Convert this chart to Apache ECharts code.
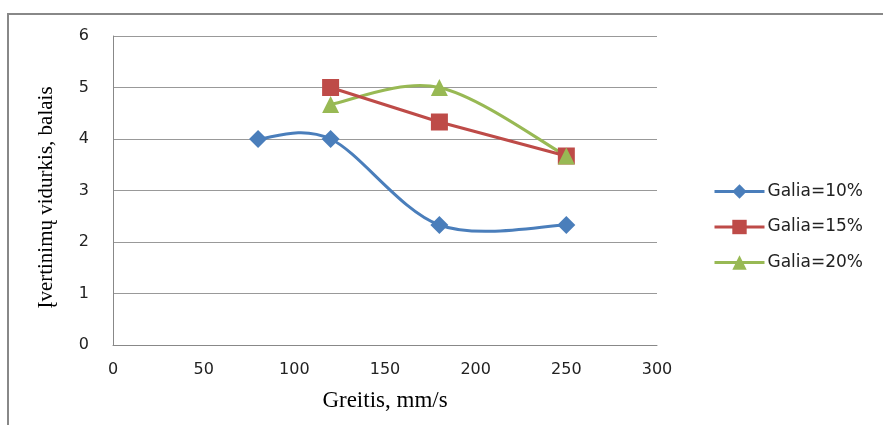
<!DOCTYPE html>
<html><head><meta charset="utf-8">
<script src="https://cdn.jsdelivr.net/npm/echarts@6/dist/echarts.min.js"></script>
<style>html,body{margin:0;padding:0;background:#fff}#c{width:883px;height:425px}</style>
</head><body><div id="c"></div>
<script>
const seriesNames = ['Galia=10%', 'Galia=15%', 'Galia=20%'];
const speeds10 = [80, 120, 180, 250];
const values10 = [4, 4, 2.33, 2.33];
const speeds15 = [120, 180, 250];
const values15 = [5, 4.33, 3.67];
const speeds20 = [120, 180, 250];
const values20 = [4.67, 5, 3.67];
const xTitle = 'Greitis, mm/s';
const yTitle = 'Įvertinimų vidurkis, balais';

const colors = ['#4a7ebb', '#be4b48', '#98b954'];
const zip = (xs, ys) => xs.map((x, i) => [x, ys[i]]);

// Excel-style smoothed curve drawn through the axis scales (api.coord)
function smoothCurve(xs, ys, color) {
  return {
    type: 'custom', name: '_curve', silent: true, z: 2,
    data: zip(xs, ys),
    renderItem: function (params, api) {
      if (params.dataIndex !== 0) return null;
      const p = xs.map((x, i) => api.coord([x, ys[i]]));
      const n = p.length;
      const path = [];
      for (let i = 0; i < n - 1; i++) {
        const p0 = p[Math.max(i - 1, 0)], p1 = p[i], p2 = p[i + 1], p3 = p[Math.min(i + 2, n - 1)];
        const c1 = [p1[0] + (p2[0] - p0[0]) / 6, p1[1] + (p2[1] - p0[1]) / 6];
        const c2 = [p2[0] - (p3[0] - p1[0]) / 6, p2[1] - (p3[1] - p1[1]) / 6];
        if (i === 0) path.push('M' + p1[0] + ' ' + p1[1]);
        path.push('C' + c1[0] + ' ' + c1[1] + ' ' + c2[0] + ' ' + c2[1] + ' ' + p2[0] + ' ' + p2[1]);
      }
      return {type: 'path', shape: {pathData: path.join(' ')},
        style: {fill: 'none', stroke: color, lineWidth: 3, lineJoin: 'round'}};
    }
  };
}

const chart = echarts.init(document.getElementById('c'));
const tickFont = {fontFamily: 'DejaVu Sans', fontSize: 16, color: '#222'};
chart.setOption({
  animation: false,
  graphic: [{type: 'rect', shape: {x: 8, y: 14, width: 900, height: 430}, style: {fill: 'none', stroke: '#888', lineWidth: 2}, silent: true}],
  grid: {left: 113, right: 226, top: 36, bottom: 80, containLabel: false, outerBoundsMode: 'none'},
  xAxis: {type: 'value', min: 0, max: 300, interval: 50,
    name: xTitle, nameLocation: 'middle', nameGap: 44,
    nameTextStyle: {fontFamily: 'Liberation Serif', fontSize: 23, color: '#000'},
    axisLine: {show: true, lineStyle: {color: '#888'}}, axisTick: {show: false},
    splitLine: {show: false}, axisLabel: Object.assign({margin: 17}, tickFont)},
  yAxis: {type: 'value', min: 0, max: 6, interval: 1,
    name: yTitle, nameLocation: 'middle', nameGap: 56, nameRotate: 90,
    nameTextStyle: {fontFamily: 'Liberation Serif', fontSize: 21, color: '#000', padding: [0, 14, 0, 0]},
    axisLine: {show: true, lineStyle: {color: '#888'}}, axisTick: {show: false},
    splitLine: {lineStyle: {color: '#999', width: 1}}, axisLabel: Object.assign({margin: 24}, tickFont)},
  legend: {orient: 'vertical', left: 713, top: 183, padding: 0, itemGap: 18.5, itemWidth: 50, itemHeight: 18,
    textStyle: {fontFamily: 'DejaVu Sans', fontSize: 17, color: '#222', padding: [0, 0, 0, -2]},
    data: seriesNames.map((n, i) => ({name: n, lineStyle: {opacity: 1, width: 3, color: colors[i]}}))},
  series: [
    smoothCurve(speeds10, values10, colors[0]),
    smoothCurve(speeds20, values20, colors[2]),
    {name: seriesNames[0], type: 'line', data: zip(speeds10, values10), z: 3,
     symbol: 'diamond', symbolSize: [18, 18], lineStyle: {width: 3, color: colors[0], opacity: 0}, itemStyle: {color: colors[0]}},
    {name: seriesNames[1], type: 'line', data: zip(speeds15, values15), z: 3,
     symbol: 'rect', symbolSize: 17, lineStyle: {width: 3, color: colors[1]}, itemStyle: {color: colors[1]}},
    {name: seriesNames[2], type: 'line', data: zip(speeds20, values20), z: 4,
     symbol: 'triangle', symbolSize: 17, lineStyle: {width: 3, color: colors[2], opacity: 0}, itemStyle: {color: colors[2]}}
  ]
});
</script></body></html>
